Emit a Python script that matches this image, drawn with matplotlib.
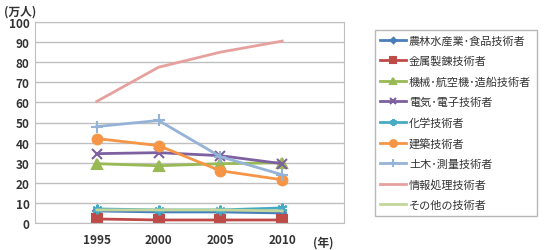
import matplotlib.pyplot as plt

plt.rcParams['font.family'] = ['Noto Sans CJK JP', 'DejaVu Sans']

years = ['1995', '2000', '2005', '2010']
series_names = ['農林水産業･食品技術者', '金属製錬技術者', '機械･航空機･造船技術者',
                '電気･電子技術者', '化学技術者', '建築技術者', '土木･測量技術者',
                '情報処理技術者', 'その他の技術者']
agri = [6, 5.5, 5.5, 5]
metal = [2, 1.5, 1.5, 1.5]
machine = [29.5, 28.5, 29.5, 30]
elec = [34.5, 35, 33.5, 29.5]
chem = [7, 6.5, 6.5, 7.5]
arch = [42, 38.5, 26, 21.5]
civil = [48, 51, 33, 24]
info = [60.5, 77.5, 85, 90.5]
other = [6.5, 6.5, 6.5, 6]

values = [agri, metal, machine, elec, chem, arch, civil, info, other]
colors = ['#4A7EBB', '#BE4B48', '#98B954', '#7D60A0', '#46AAC5',
          '#F69545', '#95B3D7', '#E6A19E', '#C3D69B']
markers = ['D', 's', '^', 'x', (6, 2, 0), 'o', '+', None, None]
msizes = [4, 7, 7, 7, 7, 7, 8, 0, 0]

fig = plt.figure(figsize=(5.44, 2.51), dpi=100)
ax = fig.add_axes([35 / 544, 27 / 251, 309 / 544, 201 / 251])

x = [1, 2, 3, 4]
for name, vals, c, m, ms in zip(series_names, values, colors, markers, msizes):
    ax.plot(x, vals, color=c, lw=2, marker=m, ms=ms, mew=1.5, label=name)

ax.set_xlim(0, 5)
ax.set_ylim(0, 100)
ax.set_yticks(range(0, 101, 10))
ax.set_xticks(x)
ax.set_xticklabels(years)
ax.yaxis.grid(True, color='#BFBFBF', lw=1)
ax.set_axisbelow(True)
for s in ax.spines.values():
    s.set_color('#BFBFBF')
ax.tick_params(length=0, labelsize=8.5, pad=4)
ax.tick_params(axis='x', pad=7)
for lab in ax.get_yticklabels() + ax.get_xticklabels():
    lab.set_fontweight('bold')
    lab.set_color('#333333')

ax.text(4.5, -0.06, '(年)', transform=ax.get_xaxis_transform(), fontsize=8.5,
        fontweight='bold', color='#333333', ha='left', va='top')
fig.text(4 / 544, 1 - 12 / 251, '(万人)', fontsize=8.5, fontweight='bold',
         color='#333333', ha='left', va='center')

leg = fig.legend(loc='upper left', bbox_to_anchor=(369 / 544, 1 - 25 / 251),
                 frameon=True, fontsize=8, handlelength=2.3, handletextpad=0.3,
                 labelspacing=0.9, borderpad=0.5, fancybox=False,
                 markerscale=0.7)
leg.get_frame().set_edgecolor('#A6A6A6')
leg.get_frame().set_linewidth(1)
for t in leg.get_texts():
    t.set_color('#333333')

fig.savefig('out.png', dpi=100)
